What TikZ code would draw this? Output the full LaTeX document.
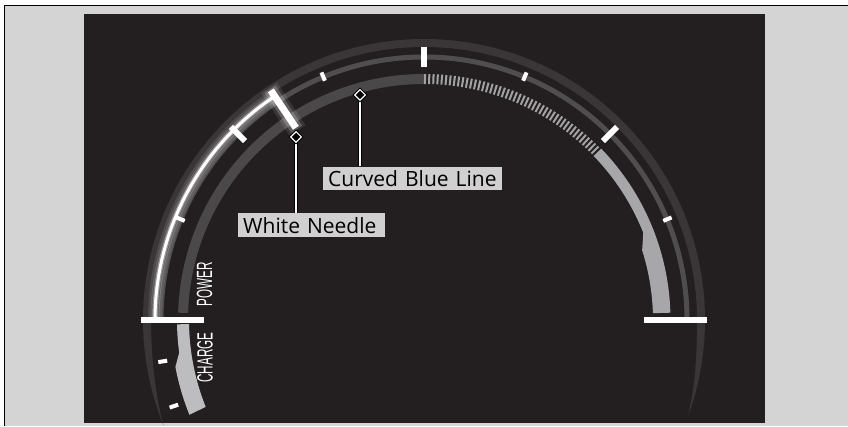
\documentclass[tikz,border=0pt]{standalone}
\usepackage{graphicx}
\usepackage{fontspec}
\setmainfont{Open Sans}
\newfontfamily\dialfont{Liberation Sans}
\usetikzlibrary{shapes.geometric, positioning}

\definecolor{panel}{HTML}{231F20}
\definecolor{framegray}{HTML}{D4D4D4}
\definecolor{ringdark}{HTML}{3A3637}
\definecolor{ringmid}{HTML}{504D4E}
\definecolor{ringinner}{HTML}{4B4849}
\definecolor{bandlight}{HTML}{A7A7A9}
\definecolor{chargelight}{HTML}{BDBDBF}
\definecolor{hatchgray}{HTML}{A2A2A4}
\definecolor{lblgray}{HTML}{D0D0D0}

\begin{document}
\begin{tikzpicture}[
      x=1pt, y=1pt,
      outerband/.style={draw=ringdark, line width=8pt},
      thinband/.style={draw=ringmid, line width=5pt},
      innerband/.style={draw=ringinner, line width=10pt},
      hatchband/.style={draw=hatchgray, line width=10pt, dash pattern=on 2pt off 2.2pt},
      bigtick/.style={draw=white, line width=6pt},
      smalltick/.style={draw=white, line width=4pt},
      endbar/.style={draw=white, line width=6pt},
      glow/.style={draw=white, opacity=#1},
      dialtext/.style={text=white, font=\dialfont\fontsize{22}{22}\selectfont, rotate=90, inner sep=0pt},
      lblbox/.style={fill=lblgray, font=\fontsize{21}{24}\selectfont, text=black, inner xsep=5pt, inner ysep=0pt, align=left, anchor=north west},
      tipmark/.style={diamond, fill=black, draw=white, line width=1.1pt, inner sep=0pt, minimum size=11pt, preaction={draw=black, line width=3pt}},
      leader/.style={draw=black, double=white, double distance=1.6pt, line width=1.2pt},
  ]

  \useasboundingbox (0,0) rectangle (848,426);

  % --- Frame and dark panel ---
  \fill[white] (0,0) rectangle (848,426);
  \fill[framegray] (4,0) rectangle (848,420);
  \draw[black, line width=1.2pt] (4.6,0) -- (4.6,420.4) -- (848,420.4);
  \fill[panel] (84,3) rectangle (765,412);

  % --- Gauge, centred on the end bars ---
  \begin{scope}[shift={(424,106)}]
    % outer ring with tapering tails
    \draw[outerband] (0:277) arc[start angle=0, end angle=180, radius=277];
    \fill[ringdark] (180:281) arc[start angle=180, end angle=202, radius=281]
      .. controls (195:279) and (187:275) .. (180:273) -- cycle;
    \fill[ringdark] (0:281) arc[start angle=0, end angle=-20, radius=281]
      .. controls (-13:279) and (-7:275) .. (0:273) -- cycle;

    % thin middle ring
    \draw[thinband] (0:263) arc[start angle=0, end angle=180, radius=263];

    % inner ring: dark part, hatched part, light part
    \draw[innerband] (90:241) arc[start angle=90, end angle=178.3, radius=241];
    \draw[hatchband] (90:241) arc[start angle=90, end angle=44, radius=241];
    \fill[bandlight] (44:246.5) arc[start angle=44, end angle=1.7, radius=246.5]
      -- (1.7:229) arc[start angle=1.7, end angle=17.7, radius=229]
      -- (21.7:236) arc[start angle=21.7, end angle=44, radius=236] -- cycle;

    % charge segment below the left bar
    \fill[chargelight] (181:247) arc[start angle=181, end angle=187.6, radius=247]
      -- (190.7:253) arc[start angle=190.7, end angle=202, radius=253]
      -- (201.7:235) arc[start angle=201.7, end angle=181, radius=235] -- cycle;

    % white power arc with glow
    \draw[glow=0.10, line width=14pt] (180:269) arc[start angle=180, end angle=123.7, radius=269];
    \draw[glow=0.18, line width=9pt] (180:269) arc[start angle=180, end angle=123.7, radius=269];
    \draw[glow=0.35, line width=5.5pt] (180:269) arc[start angle=180, end angle=123.7, radius=269];
    \draw[white, line width=3pt] (180:269) arc[start angle=180, end angle=123.7, radius=269];

    % ticks
    \draw[bigtick] (45:253) -- (45:273);
    \draw[bigtick] (90:253) -- (90:273);
    \draw[bigtick] (135:253) -- (135:273);
    \draw[smalltick] (22.5:259) -- (22.5:268);
    \draw[smalltick] (67.5:259) -- (67.5:268);
    \draw[smalltick] (112.5:259) -- (112.5:268);
    \draw[smalltick] (157.5:259) -- (157.5:268);
    \draw[smalltick] (189:260) -- (189:269);
    \draw[smalltick] (199:260) -- (199:269);

    % needle with glow
    \draw[glow=0.10, line width=19pt] (123.7:228) -- (123.7:279);
    \draw[glow=0.20, line width=13pt] (123.7:229.5) -- (123.7:277.5);
    \draw[white, line width=7pt] (123.7:231) -- (123.7:276);

    % end bars
    \draw[endbar] (180:220) -- (180:283);
    \draw[endbar] (0:220) -- (0:283);
  \end{scope}

  % --- Dial texts ---
  \node[dialtext] (powerlbl) at (204.5,142) {\scalebox{0.53}[1]{POWER}};
  \node[dialtext] (chargelbl) at (205,68.5) {\scalebox{0.53}[1]{CHARGE}};

  % --- Callouts ---
  \node[tipmark] (needletip) at (296,289) {};
  \node[tipmark] (bluetip) at (360,331) {};

  \node[lblbox, text width=137pt, minimum height=24pt] (needlelbl) at (238,213) {White Needle};
  \node[lblbox, text width=169pt, minimum height=23.5pt] (bluelbl) at (323,259.5) {Curved Blue Line};

  \draw[leader] (needlelbl.north -| needletip) -- (needletip);
  \draw[leader] (bluelbl.north -| bluetip) -- (bluetip);
  \node[tipmark] at (needletip) {};
  \node[tipmark] at (bluetip) {};

\end{tikzpicture}
\end{document}
